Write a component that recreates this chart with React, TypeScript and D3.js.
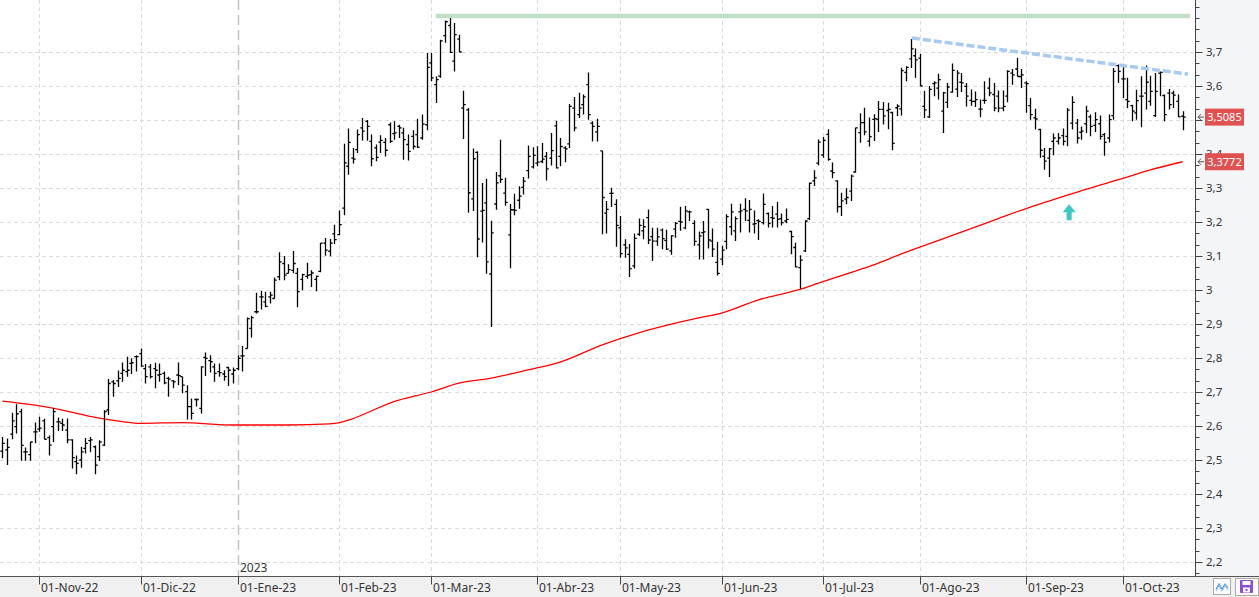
import React from "react";
import * as d3 from "d3";

// ---- OHLC data (daily bars, 20-Oct-22 .. 19-Oct-23) ----
const opens = [
2.526,2.53,2.576,2.598,2.642,2.524,2.516,2.583,2.591,2.615,2.566,2.598,2.612,2.608,2.588,2.559,2.495,2.5,2.534,2.557,
2.539,2.51,2.544,2.647,2.73,2.733,2.755,2.76,2.784,2.804,2.813,2.769,2.774,2.769,2.75,2.755,2.74,2.733,2.75,2.745,
2.701,2.657,2.678,2.652,2.802,2.792,2.774,2.76,2.753,2.772,2.753,2.769,2.806,2.828,2.887,2.936,2.98,2.965,2.98,2.975,
3.039,3.078,3.049,3.058,3.049,3.031,3.04,3.045,3.031,3.055,3.138,3.114,3.165,3.163,3.241,3.364,3.388,3.413,3.477,3.496,
3.437,3.418,3.435,3.434,3.486,3.46,3.481,3.462,3.428,3.452,3.457,3.447,3.486,3.668,3.604,3.629,3.748,3.778,3.673,3.738,
3.535,3.53,3.268,3.405,3.232,3.256,3.047,3.253,3.336,3.285,3.162,3.236,3.264,3.302,3.351,3.362,3.373,3.378,3.393,3.388,
3.483,3.393,3.418,3.43,3.535,3.516,3.545,3.604,3.491,3.465,3.409,3.226,3.284,3.252,3.183,3.133,3.105,3.071,3.164,3.174,
3.213,3.157,3.144,3.176,3.146,3.115,3.179,3.202,3.183,3.23,3.196,3.133,3.169,3.237,3.144,3.081,3.091,3.143,3.186,3.174,
3.23,3.237,3.205,3.194,3.204,3.198,3.225,3.213,3.223,3.21,3.203,3.172,3.125,3.066,3.115,3.21,3.321,3.373,3.397,3.458,
3.35,3.321,3.245,3.267,3.291,3.347,3.463,3.492,3.438,3.502,3.502,3.531,3.528,3.522,3.536,3.533,3.64,3.68,3.689,3.682,
3.54,3.509,3.607,3.594,3.526,3.552,3.582,3.591,3.611,3.599,3.558,3.555,3.532,3.558,3.594,3.575,3.57,3.535,3.57,3.638,
3.65,3.628,3.609,3.542,3.506,3.472,3.393,3.388,3.437,3.437,3.454,3.452,3.491,3.491,3.464,3.489,3.509,3.484,3.489,3.457,
3.447,3.513,3.66,3.621,3.56,3.542,3.521,3.57,3.579,3.555,3.513,3.638,3.572,3.579,3.579,3.555,3.511];
const highs = [
2.568,2.563,2.639,2.664,2.651,2.537,2.553,2.61,2.627,2.621,2.572,2.654,2.625,2.621,2.622,2.561,2.513,2.539,2.565,2.568,
2.543,2.558,2.646,2.738,2.735,2.763,2.787,2.804,2.799,2.808,2.828,2.782,2.782,2.786,2.784,2.76,2.745,2.735,2.787,2.745,
2.72,2.681,2.681,2.776,2.816,2.808,2.784,2.784,2.764,2.774,2.772,2.808,2.835,2.919,2.924,2.992,2.997,2.995,2.995,3.037,
3.111,3.1,3.076,3.115,3.065,3.048,3.08,3.058,3.043,3.138,3.153,3.15,3.192,3.234,3.43,3.475,3.418,3.472,3.506,3.5,
3.457,3.428,3.455,3.447,3.493,3.496,3.486,3.477,3.457,3.47,3.504,3.516,3.697,3.697,3.629,3.736,3.793,3.8,3.785,3.751,
3.586,3.535,3.416,3.408,3.315,3.327,3.204,3.347,3.442,3.33,3.253,3.283,3.305,3.332,3.425,3.42,3.423,3.432,3.406,3.462,
3.498,3.447,3.423,3.547,3.568,3.58,3.575,3.64,3.496,3.504,3.409,3.262,3.301,3.267,3.218,3.149,3.135,3.166,3.21,3.208,
3.237,3.183,3.183,3.181,3.177,3.161,3.2,3.245,3.247,3.234,3.205,3.172,3.203,3.239,3.181,3.141,3.13,3.223,3.254,3.216,
3.254,3.27,3.265,3.234,3.208,3.284,3.228,3.247,3.259,3.225,3.24,3.174,3.139,3.102,3.205,3.316,3.352,3.443,3.45,3.473,
3.375,3.323,3.286,3.299,3.34,3.477,3.52,3.536,3.507,3.517,3.556,3.553,3.551,3.524,3.546,3.654,3.658,3.738,3.71,3.695,
3.586,3.6,3.614,3.636,3.582,3.609,3.666,3.646,3.638,3.609,3.59,3.584,3.56,3.614,3.624,3.609,3.587,3.587,3.646,3.65,
3.682,3.65,3.614,3.565,3.533,3.474,3.418,3.418,3.46,3.462,3.475,3.535,3.57,3.503,3.481,3.542,3.516,3.523,3.513,3.462,
3.516,3.653,3.663,3.663,3.624,3.545,3.589,3.629,3.66,3.63,3.638,3.643,3.575,3.591,3.586,3.575,3.526];
const lows = [
2.505,2.485,2.561,2.578,2.498,2.498,2.498,2.549,2.583,2.561,2.513,2.553,2.585,2.585,2.549,2.475,2.458,2.477,2.519,2.523,
2.458,2.497,2.541,2.632,2.686,2.715,2.73,2.745,2.753,2.76,2.774,2.725,2.74,2.711,2.73,2.723,2.686,2.711,2.72,2.696,
2.619,2.619,2.657,2.637,2.747,2.757,2.73,2.745,2.733,2.718,2.725,2.764,2.76,2.828,2.86,2.931,2.943,2.949,2.96,2.975,
3.029,3.029,3.049,3.049,2.949,2.999,3.033,3.009,2.996,3.052,3.101,3.099,3.135,3.161,3.22,3.339,3.372,3.403,3.44,3.439,
3.364,3.379,3.403,3.393,3.432,3.442,3.447,3.383,3.381,3.413,3.418,3.442,3.47,3.614,3.55,3.624,3.727,3.697,3.643,3.7,
3.444,3.227,3.232,3.096,3.14,3.048,2.891,3.236,3.315,3.248,3.064,3.22,3.239,3.281,3.328,3.357,3.364,3.373,3.322,3.366,
3.357,3.364,3.376,3.418,3.467,3.506,3.516,3.501,3.437,3.437,3.164,3.166,3.244,3.127,3.095,3.095,3.038,3.063,3.159,3.149,
3.135,3.085,3.13,3.12,3.118,3.104,3.154,3.174,3.179,3.203,3.13,3.09,3.09,3.122,3.097,3.043,3.073,3.12,3.161,3.144,
3.169,3.203,3.169,3.166,3.147,3.193,3.184,3.184,3.184,3.19,3.196,3.105,3.066,3.004,3.112,3.206,3.306,3.367,3.389,3.38,
3.329,3.228,3.218,3.252,3.262,3.345,3.433,3.455,3.422,3.438,3.465,3.487,3.473,3.411,3.512,3.513,3.614,3.653,3.624,3.6,
3.506,3.506,3.57,3.56,3.462,3.535,3.58,3.568,3.582,3.54,3.542,3.538,3.508,3.548,3.57,3.526,3.523,3.526,3.552,3.604,
3.628,3.594,3.521,3.501,3.472,3.389,3.354,3.332,3.396,3.428,3.425,3.423,3.472,3.431,3.442,3.462,3.452,3.465,3.442,3.395,
3.434,3.501,3.609,3.565,3.535,3.496,3.501,3.479,3.531,3.542,3.509,3.57,3.496,3.531,3.535,3.509,3.47];
const closes = [
2.549,2.537,2.615,2.636,2.543,2.524,2.553,2.583,2.594,2.561,2.544,2.642,2.612,2.603,2.559,2.507,2.49,2.524,2.549,2.559,
2.485,2.553,2.642,2.725,2.725,2.74,2.764,2.764,2.786,2.804,2.776,2.745,2.745,2.764,2.752,2.727,2.738,2.73,2.748,2.72,
2.657,2.637,2.678,2.774,2.799,2.789,2.755,2.757,2.745,2.764,2.764,2.799,2.806,2.916,2.919,2.936,2.98,2.952,2.985,3.029,
3.083,3.044,3.06,3.078,2.995,3.045,3.043,3.05,3.04,3.138,3.117,3.138,3.148,3.192,3.374,3.434,3.385,3.457,3.467,3.481,
3.386,3.39,3.44,3.411,3.437,3.462,3.477,3.442,3.408,3.422,3.42,3.488,3.655,3.624,3.619,3.733,3.789,3.699,3.751,3.7,
3.545,3.286,3.386,3.15,3.234,3.083,3.168,3.315,3.325,3.258,3.236,3.234,3.276,3.32,3.393,3.396,3.376,3.385,3.356,3.41,
3.359,3.422,3.415,3.54,3.477,3.535,3.568,3.516,3.481,3.481,3.272,3.237,3.284,3.19,3.107,3.124,3.063,3.152,3.19,3.186,
3.147,3.144,3.156,3.151,3.12,3.159,3.196,3.2,3.233,3.23,3.143,3.159,3.171,3.147,3.12,3.049,3.117,3.216,3.23,3.21,
3.233,3.233,3.237,3.195,3.202,3.252,3.196,3.211,3.208,3.198,3.208,3.157,3.068,3.088,3.203,3.314,3.33,3.435,3.44,3.384,
3.345,3.245,3.262,3.272,3.335,3.477,3.492,3.465,3.451,3.504,3.531,3.512,3.531,3.431,3.541,3.645,3.655,3.709,3.677,3.6,
3.53,3.59,3.609,3.619,3.58,3.597,3.646,3.638,3.609,3.57,3.555,3.56,3.532,3.558,3.58,3.535,3.535,3.54,3.643,3.633,
3.628,3.633,3.607,3.516,3.503,3.411,3.379,3.415,3.447,3.447,3.437,3.529,3.552,3.447,3.467,3.526,3.481,3.501,3.452,3.434,
3.501,3.643,3.643,3.621,3.555,3.526,3.557,3.57,3.611,3.584,3.584,3.64,3.516,3.545,3.573,3.509,3.5085];

// ---- moving average (at bar indices) ----
const maIdx = [0,10,21,26,30,39,50,62,71,86,93,99,106,114,121,130,138,151,156,164,173,177,183,189,195,199,208,216,223,229,235,243,249,256];
const maVal = [2.673,2.655,2.623,2.613,2.608,2.61,2.603,2.603,2.606,2.676,2.7,2.726,2.741,2.765,2.788,2.838,2.874,2.918,2.932,2.971,3.002,3.02,3.047,3.074,3.106,3.126,3.17,3.21,3.244,3.27,3.296,3.328,3.353,3.3772];

// ---- annotations ----
const resistanceLevel = 3.806;
const resistanceFrom = 94;
const resistanceTo = 257.6;
const trendFrom = [197.3, 3.741];
const trendTo = [257.2, 3.635];
const arrowIdx = 231.4;
const arrowTop = 3.252;

const yTicks = [2.2,2.3,2.4,2.5,2.6,2.7,2.8,2.9,3.0,3.1,3.2,3.3,3.4,3.5,3.6,3.7];
const monthNames = ["Ene","Feb","Mar","Abr","May","Jun","Jul","Ago","Sep","Oct","Nov","Dic"];
const holidays = ["2022-12-26","2023-04-07","2023-04-10","2023-05-01"];
const firstDay = "2022-10-20";

function tradingDays(start: string, n: number): Date[] {
  const out: Date[] = [];
  const d = new Date(start + "T00:00:00Z");
  while (out.length < n) {
    const wd = d.getUTCDay();
    const iso = d.toISOString().slice(0, 10);
    if (wd !== 0 && wd !== 6 && !holidays.includes(iso)) out.push(new Date(d));
    d.setUTCDate(d.getUTCDate() + 1);
  }
  return out;
}

const W = 1259, H = 597;
const AX = 1195.5; // right axis line
const AY = 576.5;  // bottom axis line
const FONT = "'Segoe UI', 'Noto Sans', sans-serif";

export default function App() {
  const n = opens.length;
  const dates = tradingDays(firstDay, n);
  const x = d3.scaleLinear().domain([0, n - 1]).range([2.4, 2.4 + 4.61 * (n - 1)]);
  const y = d3.scaleLinear().domain([2.2, 3.7]).range([562, 52]);

  const months: { i: number; label: string; yearStart: boolean }[] = [];
  for (let i = 1; i < n; i++) {
    if (dates[i].getUTCMonth() !== dates[i - 1].getUTCMonth()) {
      const m = dates[i].getUTCMonth();
      const yy = String(dates[i].getUTCFullYear()).slice(2);
      months.push({ i, label: `01-${monthNames[m]}-${yy}`, yearStart: dates[i].getUTCFullYear() !== dates[i - 1].getUTCFullYear() });
    }
  }

  const fmtAxis = (v: number) => String(+v.toFixed(1)).replace(".", ",");
  const fmt4 = (v: number) => v.toFixed(4).replace(".", ",");

  const minor: number[] = [];
  for (let k = 63; k <= 117; k++) {
    const v = k / 30;
    const yy = y(v);
    if (yy > 2 && yy < AY - 1) minor.push(v);
  }

  const maLine = d3.line<number>().x((_, i) => x(maIdx[i])).y((d) => y(d)).curve(d3.curveMonotoneX)(maVal) || "";

  const barPath = (i: number) => {
    const xi = Math.round(x(i)) + 0.5;
    return `M${xi},${y(highs[i])}V${y(lows[i])}M${xi - 2.2},${y(opens[i])}H${xi}M${xi},${y(closes[i])}H${xi + 2.2}`;
  };

  const lastClose = closes[n - 1];
  const lastMA = maVal[maVal.length - 1];
  const ax = x(arrowIdx);
  const ay = y(arrowTop);
  const priceMarks = [lastClose, lastMA];
  // axis labels that sit fully under a price box are hidden, as in the original
  const visibleTicks = yTicks.filter((v) => priceMarks.every((p) => Math.abs(y(v) - y(p)) > 5));

  const priceLabel = (v: number, key: string) => {
    const yy = y(v);
    return (
      <g key={key}>
        <path d={`M1204,${yy}H1198M1201,${yy - 3}L1198,${yy}L1201,${yy + 3}`} stroke="#555" strokeWidth={1} fill="none" />
        <rect x={1205} y={yy - 8.5} width={39} height={17} fill="#e05252" />
        <text x={1224.5} y={yy + 4} fill="#fff" fontSize={11} textAnchor="middle" fontFamily={FONT}>{fmt4(v)}</text>
      </g>
    );
  };

  return (
    <svg width={W} height={H} style={{ position: "absolute", left: 0, top: 0, background: "#fff" }}>
      {/* panels */}
      <rect x={AX} y={0} width={W - AX} height={AY} fill="#f4f5f7" />
      <rect x={0} y={AY} width={W} height={H - AY} fill="#f0f0f0" />

      {/* grid */}
      {yTicks.map((v) => (
        <line key={"gy" + v} x1={0} x2={AX} y1={Math.round(y(v)) + 0.5} y2={Math.round(y(v)) + 0.5} stroke="#dcdcdc" strokeDasharray="4,3" />
      ))}
      {months.map((m) => (
        <line key={"gx" + m.i} x1={Math.round(x(m.i)) + 0.5} x2={Math.round(x(m.i)) + 0.5} y1={0} y2={AY}
          stroke={m.yearStart ? "#c4c4c4" : "#dcdcdc"} strokeWidth={m.yearStart ? 1.5 : 1}
          strokeDasharray={m.yearStart ? "10,5" : "4,3"} />
      ))}
      {months.filter((m) => m.yearStart).map((m) => (
        <text key={"yr" + m.i} x={Math.round(x(m.i)) + 2} y={572} fontSize={12} fontFamily={FONT} fill="#333">
          {dates[m.i].getUTCFullYear()}
        </text>
      ))}

      {/* resistance line */}
      <line x1={x(resistanceFrom)} x2={x(resistanceTo)} y1={y(resistanceLevel)} y2={y(resistanceLevel)} stroke="#bfe0c4" strokeWidth={4.5} />

      {/* moving average */}
      <path d={maLine} fill="none" stroke="#ff0000" strokeWidth={1.3} />

      {/* OHLC bars */}
      <g stroke="#000" strokeWidth={1.3} fill="none">
        {opens.map((_, i) => <path key={i} d={barPath(i)} />)}
      </g>

      {/* trend line */}
      <line x1={x(trendFrom[0])} y1={y(trendFrom[1])} x2={x(trendTo[0])} y2={y(trendTo[1])} stroke="#a8caf0" strokeWidth={3.5} strokeDasharray="8,3" />

      {/* cyan arrow */}
      <path d={`M${ax},${ay}L${ax + 6.5},${ay + 8}H${ax + 2.5}V${ay + 16}H${ax - 2.5}V${ay + 8}H${ax - 6.5}Z`} fill="#3ec8c4" />

      {/* right axis */}
      <line x1={AX} x2={AX} y1={0} y2={AY} stroke="#444" />
      {minor.map((v, k) => (
        <line key={"mt" + k} x1={AX} x2={AX + 4} y1={Math.round(y(v)) + 0.5} y2={Math.round(y(v)) + 0.5} stroke="#444" />
      ))}
      {yTicks.map((v) => (
        <line key={"yt" + v} x1={AX} x2={AX + 7} y1={Math.round(y(v)) + 0.5} y2={Math.round(y(v)) + 0.5} stroke="#444" />
      ))}
      {visibleTicks.map((v) => (
        <text key={"yl" + v} x={1206} y={y(v) + 4} fontSize={11.5} fontFamily={FONT} fill="#333">{fmtAxis(v)}</text>
      ))}

      {priceLabel(lastClose, "pl1")}
      {priceLabel(lastMA, "pl2")}

      {/* bottom axis */}
      <line x1={0} x2={W} y1={AY} y2={AY} stroke="#555" />
      {months.map((m) => (
        <g key={"xt" + m.i}>
          <line x1={Math.round(x(m.i)) + 0.5} x2={Math.round(x(m.i)) + 0.5} y1={AY} y2={AY + 8} stroke="#444" />
          <text x={Math.round(x(m.i)) + 2} y={592} fontSize={12} fontFamily={FONT} fill="#333">{m.label}</text>
        </g>
      ))}

      {/* bottom-right buttons */}
      <rect x={1213.5} y={578.5} width={17} height={16} fill="#fbfbfb" stroke="#aaa" />
      <polyline points="1216,589 1219,584 1222,589 1225,584 1228,588" fill="none" stroke="#5b9bd5" strokeWidth={1.2} />
      <polyline points="1216,591 1219,586 1222,591 1225,586 1228,590" fill="none" stroke="#8fbce6" strokeWidth={1} />
      <rect x={1235.5} y={578.5} width={23} height={17} fill="#fbfbfb" stroke="#aaa" />
      <rect x={1240} y={580} width={13} height={13} fill="#8a4fcf" rx={1} />
      <rect x={1242.5} y={581} width={8} height={4} fill="#fff" />
      <rect x={1243} y={587.5} width={7} height={5} fill="#fff" />
      <rect x={1245.5} y={589} width={2} height={2} fill="#8a4fcf" />
    </svg>
  );
}
